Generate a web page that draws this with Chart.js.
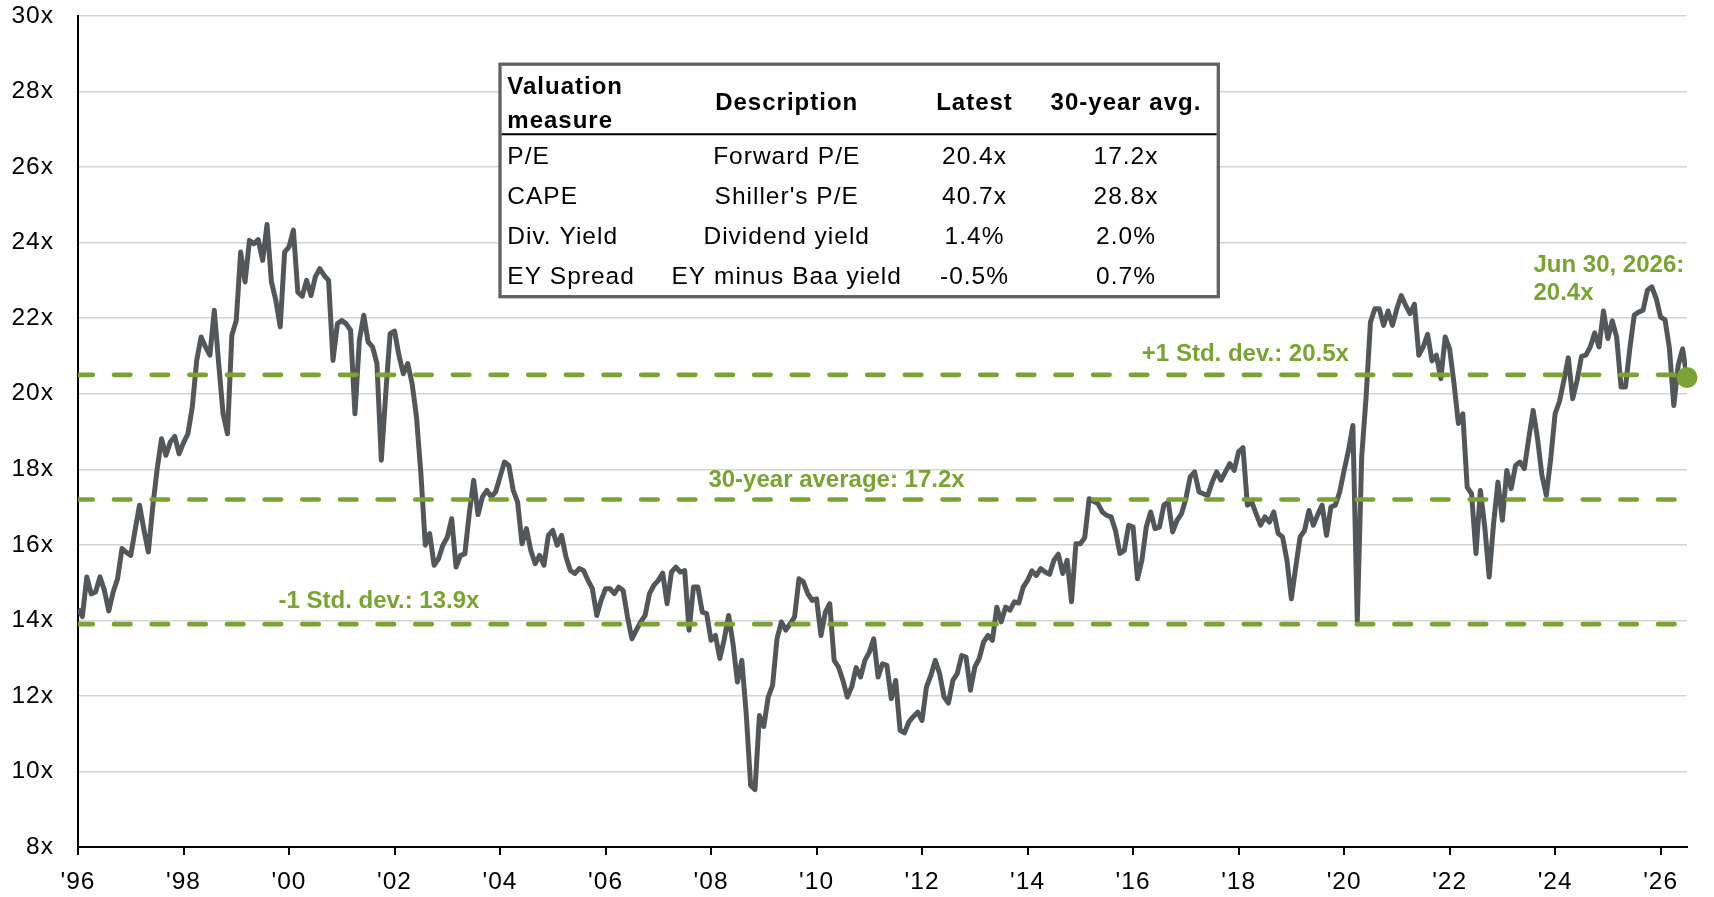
<!DOCTYPE html>
<html>
<head>
<meta charset="utf-8">
<title>Forward P/E</title>
<script src="https://cdn.jsdelivr.net/npm/chart.js@4.4.1/dist/chart.umd.min.js"></script>
<style>
  body { margin: 0; background: #fff; }
  #wrap { width: 1714px; height: 897px; }
</style>
</head>
<body>
<div id="wrap"><canvas id="graph" width="1714" height="897"></canvas></div>
<script>
// forward P/E, month-end values, Dec 1995 -> Jun 2026
const pe96to05 = [
  14.3, 14.1, 15.15, 14.7, 14.75, 15.15, 14.8, 14.25, 14.75, 15.1, 15.9, 15.8,
  15.72, 16.4, 17.05, 16.4, 15.81, 17.0, 18.0, 18.81, 18.37, 18.72, 18.87, 18.41,
  18.7, 18.94, 19.65, 20.88, 21.5, 21.24, 21.02, 22.21, 20.8, 19.47, 18.94, 21.55,
  21.94, 23.75, 22.96, 24.06, 23.97, 24.08, 23.53, 24.48, 22.96, 22.47, 21.77, 23.75,
  23.89, 24.33, 22.69, 22.58, 23.0, 22.6, 23.1, 23.31, 23.13, 23.0, 20.88, 21.85,
  21.94, 21.85, 21.68, 19.47, 21.41, 22.08, 21.37, 21.24, 20.8, 18.24, 20.0, 21.59,
  21.66, 21.02, 20.53, 20.8, 20.27, 19.38, 17.88, 15.99, 16.3, 15.46, 15.63, 15.99,
  16.2, 16.69, 15.41, 15.72, 15.76, 16.82, 17.71, 16.8, 17.27, 17.44, 17.27, 17.4,
  17.8, 18.19, 18.1, 17.44, 17.13, 16.03, 16.43, 15.85, 15.5, 15.72, 15.46, 16.25,
  16.38, 15.99, 16.25, 15.68, 15.32, 15.24, 15.37, 15.32, 15.06, 14.84, 14.13, 14.53
];
const pe06to15 = [
  14.84, 14.84, 14.71, 14.88, 14.79, 14.09, 13.51, 13.74, 13.96, 14.13, 14.71, 14.93,
  15.06, 15.25, 14.44, 15.28, 15.41, 15.28, 15.32, 13.74, 14.88, 14.88, 14.22, 14.18,
  13.47, 13.6, 12.99, 13.5, 14.13, 13.38, 12.37, 12.94, 11.53, 9.63, 9.52, 11.48,
  11.19, 11.97, 12.28, 13.51, 13.96, 13.74, 13.91, 14.09, 15.1, 15.02, 14.71, 14.53,
  14.57, 13.6, 14.22, 14.44, 12.94, 12.76, 12.41, 11.97, 12.24, 12.75, 12.5, 12.94,
  13.16, 13.51, 12.5, 12.85, 12.81, 11.93, 12.41, 11.09, 11.02, 11.31, 11.45, 11.57,
  11.35, 12.24, 12.54, 12.94, 12.59, 11.97, 11.81, 12.41, 12.59, 13.07, 13.03, 12.15,
  12.76, 12.99, 13.43, 13.6, 13.47, 14.35, 13.96, 14.35, 14.27, 14.49, 14.46, 14.88,
  15.06, 15.31, 15.19, 15.37, 15.28, 15.22, 15.59, 15.75, 15.24, 15.59, 14.49, 16.03,
  16.03, 16.19, 17.22, 17.15, 17.09, 16.87, 16.78, 16.74, 16.38, 15.77, 15.85, 16.52
];
const pe16to26 = [
  16.47, 15.1, 15.59, 16.47, 16.87, 16.43, 16.47, 17.05, 17.13, 16.34, 16.65, 16.82,
  17.22, 17.8, 17.93, 17.4, 17.35, 17.31, 17.66, 17.93, 17.71, 17.93, 18.15, 17.97,
  18.46, 18.57, 17.05, 17.13, 16.82, 16.52, 16.74, 16.6, 16.87, 16.3, 16.21, 15.59,
  14.57, 15.41, 16.21, 16.38, 16.91, 16.52, 16.8, 17.05, 16.25, 17.0, 17.05, 17.4,
  17.97, 18.5, 19.16, 13.96, 18.32, 19.91, 21.9, 22.25, 22.25, 21.81, 22.19, 21.81,
  22.25, 22.6, 22.34, 22.12, 22.37, 21.02, 21.24, 21.57, 20.87, 21.02, 20.4, 21.5,
  21.19, 20.27, 19.21, 19.47, 17.53, 17.35, 15.77, 17.44, 16.47, 15.15, 16.56, 17.66,
  16.65, 17.97, 17.49, 18.1, 18.19, 18.02, 18.81, 19.56, 18.81, 17.84, 17.31, 18.28,
  19.47, 19.8, 20.35, 20.95, 19.87, 20.35, 20.99, 21.02, 21.24, 21.61, 21.24, 22.19,
  21.46, 21.93, 21.5, 20.18, 20.18, 21.2, 22.08, 22.16, 22.21, 22.74, 22.83, 22.52,
  22.03, 21.96, 21.2, 19.69, 20.75, 21.19, 20.43
];

const startYear = 1996;
const avgLevel = 17.2;
const plusSd = 20.5;
const minusSd = 13.9;

const xTickYears = [1996, 1998, 2000, 2002, 2004, 2006, 2008, 2010, 2012, 2014, 2016, 2018, 2020, 2022, 2024, 2026];
const xTickLabels = ["'96", "'98", "'00", "'02", "'04", "'06", "'08", "'10", "'12", "'14", "'16", "'18", "'20", "'22", "'24", "'26"];

const tableHead = [['Valuation', 'measure'], ['Description'], ['Latest'], ['30-year avg.']];
const tableRows = [
  ['P/E', 'Forward P/E', '20.4x', '17.2x'],
  ['CAPE', "Shiller's P/E", '40.7x', '28.8x'],
  ['Div. Yield', 'Dividend yield', '1.4%', '2.0%'],
  ['EY Spread', 'EY minus Baa yield', '-0.5%', '0.7%']
];
const lastDate = 'Jun 30, 2026:';

const green = '#7ba333';
const grey = '#54575a';
const font = "'Liberation Sans', Arial, sans-serif";

const pe = pe96to05.concat(pe06to15, pe16to26);
const points = pe.map(function(v, i){ return {x: startYear + i / 12, y: v}; });
const lastPoint = points[points.length - 1];
const xEnd = lastPoint.x;

function flat(v){
  return [{x: startYear, y: v}, {x: xEnd, y: v}];
}

// labels hang on the chart scales (year, value)
const lineLabels = [
  {text: '+1 Std. dev.: ' + plusSd + 'x', x: 2020.09, y: 20.87, align: 'right'},
  {text: '30-year average: ' + avgLevel + 'x', x: 2007.95, y: 17.53, align: 'left'},
  {text: '-1 Std. dev.: ' + minusSd + 'x', x: 1999.8, y: 14.33, align: 'left'},
  {text: lastDate, x: 2023.59, y: 23.22, align: 'left'},
  {text: lastPoint.y.toFixed(1) + 'x', x: 2023.59, y: 22.49, align: 'left'}
];

function drawTable(ctx){
  var left = 500, top = 64.2, right = 1218.3, bottom = 296.7;
  var colX = [507.3, 786.7, 974.5, 1126];
  var colAlign = ['left', 'center', 'center', 'center'];

  ctx.fillStyle = '#fff';
  ctx.fillRect(left, top, right - left, bottom - top);
  ctx.strokeStyle = '#5f6164';
  ctx.lineWidth = 3.3;
  ctx.strokeRect(left, top, right - left, bottom - top);
  ctx.strokeStyle = '#000';
  ctx.lineWidth = 2;
  ctx.beginPath();
  ctx.moveTo(left + 1.6, 134.3);
  ctx.lineTo(right - 1.6, 134.3);
  ctx.stroke();

  ctx.fillStyle = '#000';
  ctx.textBaseline = 'alphabetic';
  ctx.letterSpacing = '1px';
  ctx.font = 'bold 24px ' + font;
  for (let c = 0; c < tableHead.length; c++){
    ctx.textAlign = colAlign[c];
    if (tableHead[c].length == 2){
      ctx.fillText(tableHead[c][0], colX[c], 94.3);
      ctx.fillText(tableHead[c][1], colX[c], 127.7);
    } else {
      ctx.fillText(tableHead[c][0], colX[c], 110);
    }
  }
  ctx.font = '24.5px ' + font;
  for (let r = 0; r < tableRows.length; r++){
    for (let c = 0; c < tableRows[r].length; c++){
      ctx.textAlign = colAlign[c];
      ctx.fillText(tableRows[r][c], colX[c], 164.3 + r * 40);
    }
  }
  ctx.letterSpacing = '0px';
}

const overlay = {
  id: 'overlay',
  beforeDraw: function(chart){ chart.ctx.letterSpacing = '1px'; },
  beforeDatasetsDraw: function(chart){ chart.ctx.letterSpacing = '0px'; },
  afterDraw: function(chart){
    var ctx = chart.ctx, xs = chart.scales.x, ys = chart.scales.y;
    ctx.save();
    ctx.letterSpacing = '0px';
    ctx.font = 'bold 24px ' + font;
    ctx.fillStyle = green;
    ctx.textBaseline = 'alphabetic';
    lineLabels.forEach(function(l){
      ctx.textAlign = l.align;
      ctx.fillText(l.text, xs.getPixelForValue(l.x), ys.getPixelForValue(l.y));
    });
    drawTable(ctx);
    ctx.restore();
  }
};

function dashed(v){
  return {
    data: flat(v),
    borderColor: green,
    borderWidth: 4.6,
    borderDash: [16.5, 21.16],
    borderDashOffset: 1.7,
    borderCapStyle: 'round',
    pointRadius: 0
  };
}

// the scales' own label padding would push the plot area down, so drop it
function noEdgePadding(s){
  s.paddingTop = 0;
  s.paddingBottom = 0;
  s.paddingLeft = 0;
  s.paddingRight = 0;
}

const ctx = document.getElementById('graph');
const chart = new Chart(ctx, {
  type: 'line',
  data: {
    datasets: [
      {
        data: [lastPoint],
        showLine: false,
        pointRadius: 10.5,
        pointBackgroundColor: green,
        pointBorderWidth: 0,
        clip: false
      },
      dashed(plusSd),
      dashed(avgLevel),
      dashed(minusSd),
      {
        data: points,
        borderColor: grey,
        borderWidth: 5,
        borderJoinStyle: 'round',
        tension: 0,
        pointRadius: 0
      }
    ]
  },
  options: {
    responsive: false,
    animation: false,
    layout: { autoPadding: false, padding: { left: 0, right: 27, top: 16, bottom: 0 } },
    plugins: {
      legend: { display: false },
      tooltip: { enabled: false }
    },
    scales: {
      x: {
        type: 'linear',
        min: startYear,
        max: xEnd,
        afterBuildTicks: function(s){ s.ticks = xTickYears.map(function(v){ return {value: v}; }); },
        afterFit: function(s){ s.height = 50; noEdgePadding(s); },
        ticks: {
          callback: function(v){ return xTickLabels[xTickYears.indexOf(v)]; },
          font: { size: 24.5, family: font },
          color: '#000',
          padding: 13,
          maxRotation: 0,
          autoSkip: false
        },
        grid: { drawOnChartArea: false, drawTicks: true, tickLength: 8, color: '#000', lineWidth: 2 },
        border: { color: '#000', width: 2 }
      },
      y: {
        min: 8,
        max: 30,
        afterFit: function(s){ s.width = 78; noEdgePadding(s); },
        ticks: {
          stepSize: 2,
          callback: function(v){ return v + 'x'; },
          font: { size: 24.5, family: font },
          color: '#000',
          padding: 24
        },
        grid: { color: '#d4d4d4', lineWidth: 1.5, drawTicks: false },
        border: { color: '#000', width: 2 }
      }
    }
  },
  plugins: [overlay]
});
</script>
</body>
</html>
